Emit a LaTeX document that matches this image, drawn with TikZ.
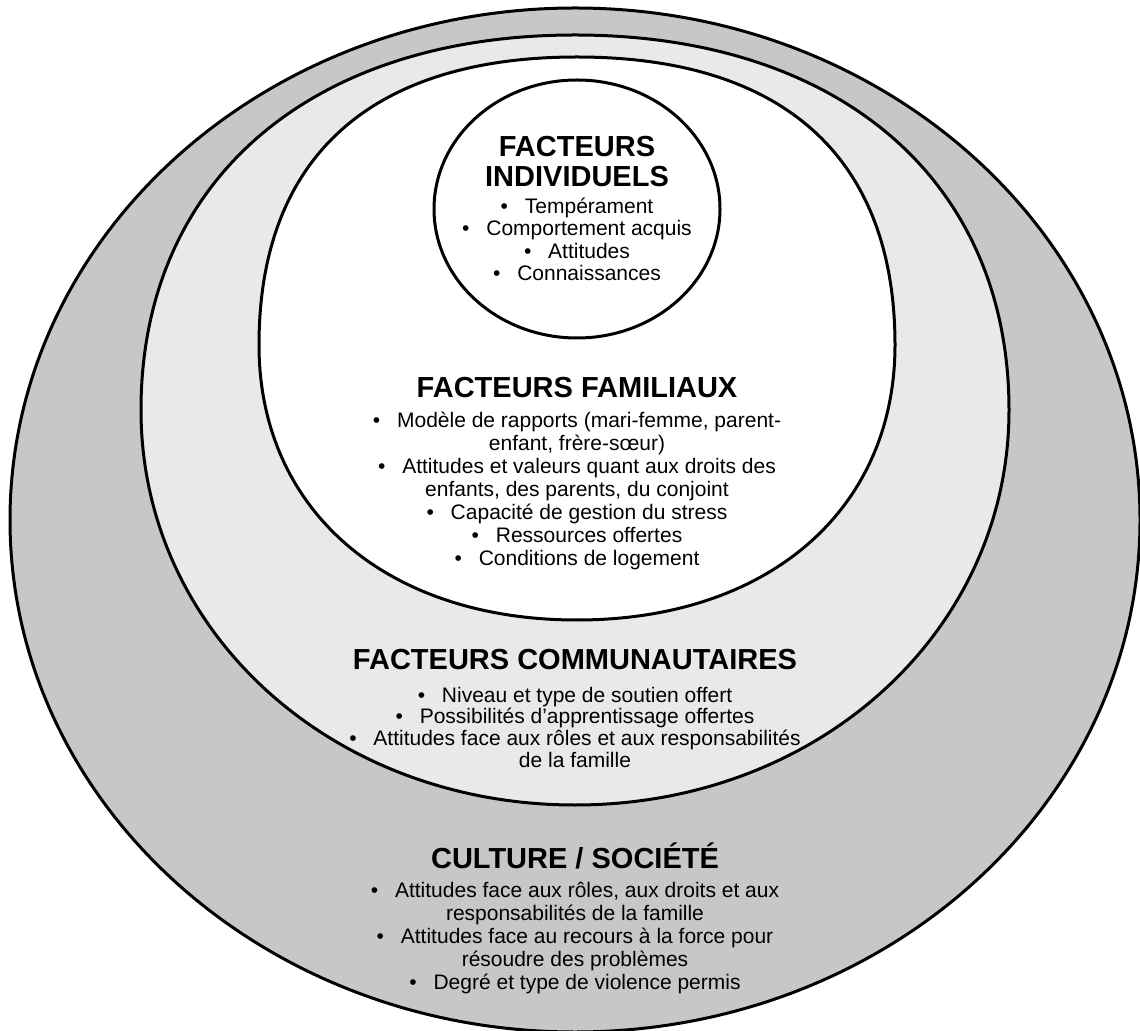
\documentclass[tikz,border=0pt]{standalone}
\usepackage{fontspec}
\setmainfont{Liberation Sans}
\usepackage{tikz}
\usetikzlibrary{positioning}
\definecolor{grisfonce}{RGB}{201,198,199}
\definecolor{grisclair}{RGB}{233,233,233}
\newcommand{\puce}{\textbullet\hspace{0.8em}}
\tikzset{
  couche/.style={draw=black, line width=1.5pt},
  titre/.style={font=\fontsize{14.5}{15}\selectfont\bfseries,
    align=center, inner sep=0pt},
  liste/.style={font=\fontsize{10.5}{11.5}\selectfont,
    align=center, inner sep=0pt}
}

\begin{document}
\begin{tikzpicture}[x=0.5pt, y=-0.5pt, node distance=6.25pt]
  \useasboundingbox[fill=white] (0,0) rectangle (1140,1031);
  % culture / societe
  \draw[couche, fill=grisfonce] (575,520) ellipse [x radius=565, y radius=512];
  % communaute
  \draw[couche, fill=grisclair] (141,410) .. controls (141,181) and (310,35) .. (575,35)
    .. controls (840,35) and (1009,181) .. (1009,410)
    .. controls (1009,632) and (818,805) .. (575,805)
    .. controls (332,805) and (141,632) .. cycle;
  % famille
  \draw[couche, fill=white] (259,345) .. controls (259,158) and (370,57) .. (577,57)
    .. controls (784,57) and (895,158) .. (895,345)
    .. controls (895,510) and (768,620) .. (577,620)
    .. controls (386,620) and (259,510) .. cycle;
  % individu
  \draw[couche, fill=white] (577,209) ellipse [x radius=143, y radius=129];

  \node[titre, anchor=north] (indivtitre) at (577,136) {FACTEURS\\INDIVIDUELS};
  \node[liste, below=5.25pt of indivtitre, font=\fontsize{10.5}{11.15}\selectfont] (indivliste)
    {\puce Tempérament\\ \puce Comportement acquis\\ \puce Attitudes\\ \puce Connaissances};

  \node[titre, anchor=base] (famtitre) at (577,398) {FACTEURS FAMILIAUX};
  \node[liste, below=6.5pt of famtitre] (famliste)
    {\puce Modèle de rapports (mari-femme, parent-\\ enfant, frère-sœur)\\
     \puce Attitudes et valeurs quant aux droits des\\ enfants, des parents, du conjoint\\
     \puce Capacité de gestion du stress\\ \puce Ressources offertes\\
     \puce Conditions de logement};

  \node[titre, anchor=base] (comtitre) at (575,669) {FACTEURS COMMUNAUTAIRES};
  \node[liste, below=8.35pt of comtitre, font=\fontsize{10.5}{10.9}\selectfont] (comliste)
    {\puce Niveau et type de soutien offert\\ \puce Possibilités d’apprentissage offertes\\
     \puce Attitudes face aux rôles et aux responsabilités\\ de la famille};

  \node[titre, anchor=base] (cultitre) at (575,868) {CULTURE / SOCIÉTÉ};
  \node[liste, below=6.25pt of cultitre] (culliste)
    {\puce Attitudes face aux rôles, aux droits et aux\\ responsabilités de la famille\\
     \puce Attitudes face au recours à la force pour\\ résoudre des problèmes\\
     \puce Degré et type de violence permis};
\end{tikzpicture}
\end{document}
